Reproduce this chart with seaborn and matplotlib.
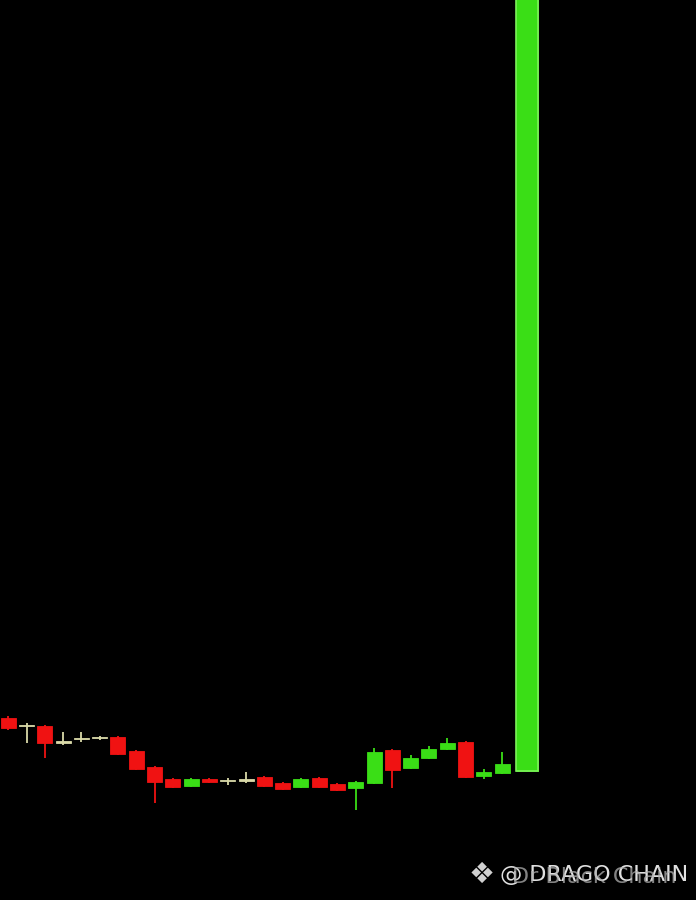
import numpy as np
import pandas as pd
import matplotlib.pyplot as plt
import seaborn as sns

# candle data (arbitrary price units)
t = list(range(28)) + [28.35]
opens = [182, 174, 174, 157, 161, 162, 163, 149, 133, 121, 114, 121, 119, 119,
         123, 117, 113, 122, 116, 112, 117, 150, 132, 142, 151, 158, 124, 127, 129]
closes = [172, 174, 157, 159, 161, 162, 146, 131, 118, 113, 121, 118, 119, 121,
          114, 111, 121, 113, 110, 118, 148, 130, 142, 151, 157, 123, 128, 136, 1000]
highs = [184, 177, 175, 168, 168, 164, 164, 150, 134, 122, 122, 122, 122, 128,
         124, 118, 122, 123, 117, 119, 152, 151, 145, 154, 162, 159, 131, 148, 1000]
lows = [170, 157, 142, 155, 158, 160, 145, 130, 97, 112, 113, 117, 115, 117,
        113, 110, 112, 112, 109, 90, 116, 112, 131, 141, 150, 122, 121, 126, 128]

df = pd.DataFrame({"t": t, "open": opens, "close": closes, "high": highs, "low": lows})

def candle_color(o, c):
    if abs(c - o) <= 2.5:
        return "#d9d9a8"
    return "#3ade16" if c > o else "#f01212"

df["color"] = [candle_color(o, c) for o, c in zip(df["open"], df["close"])]

sns.set_theme(style="dark", rc={"axes.facecolor": "black", "figure.facecolor": "black"})
plt.rcParams['font.family'] = ['DejaVu Sans']

fig = plt.figure(figsize=(6.96, 9), dpi=100)
ax = fig.add_axes([0, 0, 1, 1])
ax.set_facecolor("black")

widths = [0.82] * (len(df) - 1) + [1.2]
bottoms = np.minimum(df["open"], df["close"])
heights = np.maximum(np.abs(df["close"] - df["open"]), 1.5)

ax.vlines(df["t"], df["low"], df["high"], colors=df["color"], linewidth=1.3, zorder=1)
ax.bar(df["t"], heights, bottom=bottoms, width=widths, color=df["color"],
       edgecolor=df["color"], linewidth=0.6, zorder=2)
# brighter edges, softer core on the big candle
ax.bar(df["t"].iloc[-1], heights.iloc[-1], bottom=bottoms.iloc[-1], width=1.2,
       color="#3ade16", edgecolor="#7cf25a", linewidth=1.2, zorder=3)

ax.set_xlim(-0.45, 37.6)
ax.set_ylim(0, 900)
ax.set_xticks([])
ax.set_yticks([])
for s in ax.spines.values():
    s.set_visible(False)

# watermark (two overlapping stamps, as in the source image)
fig.text(0.673, 0.028, "\u2756", color="#d0d0d0", fontsize=21, ha="left", va="center")
fig.text(0.718, 0.028, "@ DRAGO CHAIN", color="#e0e0e0", fontsize=16, ha="left", va="center")
fig.text(0.735, 0.026, "Dr Black Chain", color="#b0b0b0", fontsize=16, ha="left", va="center",
         alpha=0.75)

fig.savefig("out.png", dpi=100, facecolor="black")
